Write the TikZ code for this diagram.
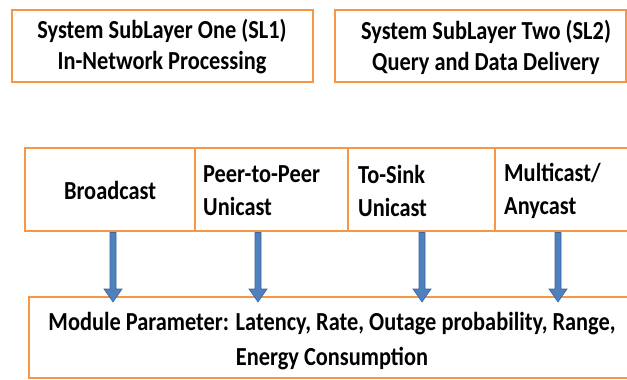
\documentclass[tikz,border=0pt]{standalone}
\usepackage{fontspec}
\setmainfont{Carlito}
\newfontfamily\lblfont{Carlito}[FakeStretch=0.86]
\usetikzlibrary{arrows.meta,calc}
\definecolor{boxorange}{HTML}{F79646}
\definecolor{arrowblue}{HTML}{4F81BD}
\definecolor{arrowedge}{HTML}{3A64A0}
\tikzset{
  obox/.style={draw=boxorange, line width=2.8pt, fill=white},
  lbl/.style={font=\lblfont\bfseries\fontsize{26}{31}\selectfont, inner sep=0pt, text=black},
  bluearrow/.style={draw=arrowedge, line width=0.6pt, fill=arrowblue}
}
\begin{document}
\begin{tikzpicture}[x=1pt,y=-1pt]
\useasboundingbox (0,0) rectangle (627,380);
% top boxes
\draw[obox] (12,10) rectangle (313,82);
\node[lbl, align=center] (sl1) at (162,47) {System SubLayer One (SL1)\\In-Network Processing};
\draw[obox] (335,10) rectangle (626,82);
\node[lbl, align=center] (sl2) at (486,47) {System SubLayer Two (SL2)\\Query and Data Delivery};
% row of cells
\draw[obox] (25,148) rectangle (640,231);
\draw[boxorange, line width=2.8pt] (195,148) -- (195,231);
\draw[boxorange, line width=2.8pt] (348,148) -- (348,231);
\draw[boxorange, line width=2.8pt] (495,148) -- (495,231);
\coordinate (c1) at (113,231);
\coordinate (c2) at (258,231);
\coordinate (c3) at (422,231);
\coordinate (c4) at (558,231);
\node[lbl] (bc) at (110,190) {Broadcast};
\node[lbl, anchor=west, align=left, font=\lblfont\bfseries\fontsize{26}{33}\selectfont] (pp) at (203,191) {Peer-to-Peer\\Unicast};
\node[lbl, anchor=west, align=left, font=\lblfont\bfseries\fontsize{26}{33}\selectfont] (ts) at (358,191) {To-Sink\\Unicast};
\node[lbl, anchor=west, align=left, font=\lblfont\bfseries\fontsize{26}{33}\selectfont] (mc) at (504,191) {Multicast/\\Anycast};
% bottom box
\draw[obox] (29,297) rectangle (640,378);
\node[lbl, align=center, font=\lblfont\bfseries\fontsize{26}{35}\selectfont] (mp) at (332,341) {Module Parameter: Latency, Rate, Outage probability, Range,\\Energy Consumption};
\coordinate (b1) at (113,302);
\coordinate (b2) at (258,302);
\coordinate (b3) at (422,302);
\coordinate (b4) at (558,302);
% arrows
\foreach \c/\b in {c1/b1,c2/b2,c3/b3,c4/b4}{
  \filldraw[bluearrow] (\c) ++(-3,1.5) -- ++(6,0) -- ($(\b)+(3,-13)$) -- ++(6,0) -- (\b) -- ++(-9,-13) -- ++(6,0) -- cycle;
}
\end{tikzpicture}
\end{document}
